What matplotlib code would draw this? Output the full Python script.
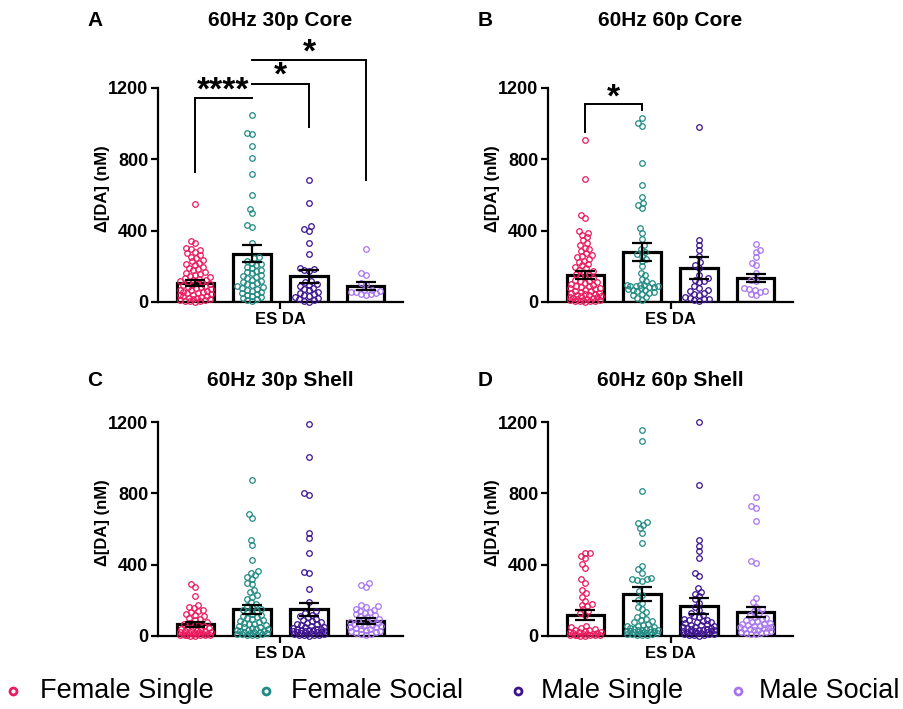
import numpy as np
import matplotlib
matplotlib.use("Agg")
import matplotlib.pyplot as plt
from matplotlib.lines import Line2D

plt.rcParams['font.family'] = ['Liberation Sans', 'DejaVu Sans']

groups = ["Female Single", "Female Social", "Male Single", "Male Social"]
colors = ["#EC1A5E", "#228A84", "#3C128E", "#A875F0"]
panel_letters = ["A", "B", "C", "D"]
panel_titles = ["60Hz 30p Core", "60Hz 60p Core", "60Hz 30p Shell", "60Hz 60p Shell"]
xcat = "ES DA"
ylabel = "Δ[DA] (nM)"
yticks = [0, 400, 800, 1200]

# bar means and SEMs
means = {
    "A": [106, 271, 144, 90],
    "B": [150, 280, 191, 135],
    "C": [65, 149, 149, 84],
    "D": [118, 235, 170, 136],
}
sems = {
    "A": [16, 48, 37, 22],
    "B": [22, 52, 60, 24],
    "C": [15, 25, 38, 15],
    "D": [28, 41, 45, 28],
}

# individual points (nM)
A_fsingle = [550, 342, 330, 305, 298, 290, 280, 272, 262, 255, 246, 238, 228, 220, 212, 205, 198, 190, 184, 178,
             170, 164, 158, 152, 146, 140, 135, 130, 126, 122, 118, 114, 110, 106, 102, 98, 94, 90, 86, 82, 78, 74,
             70, 66, 62, 58, 55, 52, 48, 45, 42, 38, 35, 32, 28, 25, 22, 19, 16, 13, 10, 8, 6, 4, 2]
A_fsocial = [1047, 948, 942, 873, 807, 720, 598, 523, 497, 430, 418, 330, 250, 245, 232, 220, 212, 205, 198, 190,
             182, 175, 168, 160, 152, 146, 140, 133, 126, 120, 112, 105, 100, 95, 90, 85, 80, 75, 70, 64, 58, 52,
             46, 40, 35, 30, 24, 18, 12, 6]
A_msingle = [686, 555, 424, 410, 398, 333, 267, 193, 185, 180, 175, 120, 110, 100, 95, 88, 80, 72, 65, 58, 50, 44,
             38, 32, 26, 20, 15, 10, 5, 2]
A_msocial = [297, 160, 152, 105, 100, 70, 65, 62, 58, 55, 50, 47, 45, 40]

B_fsingle = [910, 692, 486, 473, 396, 388, 374, 362, 345, 330, 318, 305, 296, 285, 275, 265, 258, 250, 242, 232,
             224, 215, 205, 196, 188, 180, 172, 165, 158, 150, 144, 138, 132, 126, 120, 115, 110, 105, 100, 96, 92,
             88, 84, 80, 76, 72, 68, 64, 60, 56, 53, 50, 47, 44, 41, 38, 35, 32, 29, 26, 23, 20, 18, 16, 14, 12, 10,
             8, 6, 4, 3, 2]
B_fsocial = [1034, 1004, 985, 779, 654, 589, 557, 546, 527, 415, 389, 355, 322, 300, 282, 270, 258, 240, 228, 200,
             165, 150, 130, 118, 105, 98, 95, 93, 92, 90, 88, 86, 85, 80, 75, 70, 65, 60, 55, 50, 45, 38, 30, 20, 12]
B_msingle = [981, 350, 318, 290, 256, 224, 209, 190, 150, 134, 125, 118, 112, 90, 80, 65, 60, 50, 47, 40, 30, 25,
             19, 15, 10, 5]
B_msocial = [327, 293, 280, 252, 219, 206, 165, 125, 115, 80, 72, 69, 60, 56, 47, 37]

C_fsingle = [290, 277, 226, 172, 162, 155, 148, 140, 132, 124, 118, 110, 102, 95, 88, 80, 75, 70, 64, 58, 52, 47,
             43, 40, 37, 34, 31, 28, 26, 24, 22, 20, 18, 16, 14, 12, 11, 10, 9, 8, 7, 6, 5, 4, 3, 2, 1]
C_fsocial = [877, 683, 659, 537, 510, 425, 364, 351, 340, 329, 318, 300, 289, 258, 245, 232, 220, 205, 190, 178,
             168, 160, 152, 145, 138, 132, 126, 120, 114, 108, 102, 96, 90, 85, 80, 75, 70, 65, 60, 56, 52, 48, 44,
             40, 37, 34, 31, 28, 26, 24, 22, 20, 18, 16, 14, 12, 10, 8, 6, 4]
C_msingle = [1189, 1004, 802, 793, 580, 547, 468, 357, 352, 263, 190, 140, 128, 120, 112, 105, 98, 92, 86, 80, 75,
             70, 65, 60, 56, 52, 48, 45, 42, 40, 38, 36, 34, 32, 30, 28, 26, 24, 22, 20, 18, 16, 14, 12, 10, 8, 6, 4,
             3, 2]
C_msocial = [296, 285, 274, 172, 166, 160, 152, 146, 140, 134, 128, 122, 116, 110, 104, 98, 92, 88, 84, 80, 76, 72,
             68, 64, 60, 57, 54, 51, 48, 45, 42, 38, 34, 30, 26, 22, 18, 14, 10, 6]

D_fsingle = [467, 463, 448, 435, 403, 383, 319, 300, 258, 239, 220, 198, 182, 176, 168, 150, 140, 127, 118, 58, 52,
             45, 40, 36, 32, 28, 25, 22, 20, 18, 16, 14, 12, 10, 8, 7, 6, 5, 4, 3, 2, 1]
D_fsocial = [1157, 1093, 812, 640, 634, 625, 603, 578, 524, 394, 373, 356, 327, 322, 317, 312, 308, 254, 230, 201,
             183, 165, 150, 135, 120, 108, 98, 90, 82, 76, 70, 64, 58, 54, 50, 46, 42, 40, 38, 36, 34, 32, 30, 28, 26,
             24, 22, 20, 18, 16, 14, 12, 10, 8, 6, 4]
D_msingle = [1200, 849, 537, 504, 476, 435, 356, 338, 267, 248, 238, 222, 205, 185, 165, 148, 130, 118, 110, 104, 98,
             92, 88, 84, 80, 76, 72, 68, 64, 60, 56, 53, 50, 47, 44, 41, 38, 36, 34, 32, 30, 28, 26, 24, 22, 20, 18,
             16, 14, 12, 10, 8, 6, 4, 2]
D_msocial = [780, 730, 720, 644, 420, 410, 211, 188, 165, 150, 138, 128, 118, 108, 100, 94, 88, 82, 78, 74, 70, 66,
             62, 58, 55, 52, 49, 46, 43, 40, 37, 34, 31, 28, 25, 22, 19, 16, 13, 10]

points = {
    "A": [A_fsingle, A_fsocial, A_msingle, A_msocial],
    "B": [B_fsingle, B_fsocial, B_msingle, B_msocial],
    "C": [C_fsingle, C_fsocial, C_msingle, C_msocial],
    "D": [D_fsingle, D_fsocial, D_msingle, D_msocial],
}

# significance: (group i, group j, bracket top, leg bottom i, leg bottom j, label, label x, label centre y)
sig = {
    "A": [(0, 1, 1144, 729, 1144, "****", 0.5, 1215),
          (1, 2, 1224, 1224, 981, "*", 1.5, 1299),
          (1, 3, 1359, 1359, 682, "*", 2.0, 1428)],
    "B": [(0, 1, 1112, 953, 1075, "*", 0.5, 1177)],
}

W, H = 904, 709
fig = plt.figure(figsize=(W / 100, H / 100), dpi=100)

ax_px = {"A": (158, 302), "B": (548, 302), "C": (158, 636), "D": (548, 636)}
AXW, AXH = 245, 214
XMIN, XMAX = -0.65, 3.65
px_per_x = AXW / (XMAX - XMIN)
px_per_y = AXH / 1200.0
barw = 0.65
STAR_FS = 24


def swarm(vals_px, d, halfw):
    vals_px = np.asarray(vals_px, float)
    order = np.argsort(vals_px, kind="stable")
    placed = []
    xs = np.zeros(len(vals_px))
    for i in order:
        y = vals_px[i]
        neigh = [(px, py) for px, py in placed if abs(py - y) < d]
        cands = [0.0]
        for px, py in neigh:
            dx = np.sqrt(max(d * d - (py - y) ** 2, 0))
            cands += [px - dx, px + dx]
        cands = sorted(cands, key=lambda c: (abs(c), c))
        chosen = None
        for c in cands:
            if abs(c) > halfw + 1e-9:
                continue
            if all((c - px) ** 2 + (y - py) ** 2 >= d * d - 1e-6 for px, py in neigh):
                chosen = c
                break
        if chosen is None:
            grid = np.linspace(-halfw, halfw, 17)
            chosen = max(grid, key=lambda g: min((g - px) ** 2 + (y - py) ** 2 for px, py in neigh))
        xs[i] = chosen
        placed.append((chosen, y))
    return xs


for letter, title in zip(panel_letters, panel_titles):
    x0, y0 = ax_px[letter]
    ax = fig.add_axes([x0 / W, 1 - y0 / H, AXW / W, AXH / H])
    xpos = np.arange(len(groups))
    ax.bar(xpos, means[letter], width=barw, facecolor="white", edgecolor="black", linewidth=2.3, zorder=1)
    for k, vals in enumerate(points[letter]):
        vpx = np.array(vals) * px_per_y
        offs = swarm(vpx, 5.0, 15.5) / px_per_x
        ax.plot(xpos[k] + offs, vals, linestyle="none", marker="o", markersize=4.0,
                markerfacecolor="none", markeredgecolor=colors[k], markeredgewidth=0.9, zorder=3,
                clip_on=False)
    ax.errorbar(xpos, means[letter], yerr=sems[letter], fmt="none", ecolor="black", elinewidth=1.6,
                capsize=7, capthick=1.6, zorder=4)
    ax.set_xlim(XMIN, XMAX)
    ax.set_ylim(0, 1200)
    ax.set_yticks(yticks)
    ax.set_yticklabels([str(t) for t in yticks], fontsize=13, fontweight="bold")
    ax.set_xticks([1.5])
    ax.set_xticklabels([xcat], fontsize=12, fontweight="bold")
    for s in ["top", "right"]:
        ax.spines[s].set_visible(False)
    for s in ["left", "bottom"]:
        ax.spines[s].set_linewidth(1.6)
    ax.tick_params(axis="y", length=5, width=1.6, pad=2)
    ax.tick_params(axis="x", length=5, width=1.6, pad=2)
    ax.set_ylabel(ylabel, fontsize=12, fontweight="bold")
    ax.yaxis.set_label_coords(-0.196, 0.53)

    if letter in sig:
        star_off = 0.43 * STAR_FS * (100 / 72) / px_per_y
        for (i, j, top, bi, bj, lab, lx_, ly_) in sig[letter]:
            ax.plot([xpos[i], xpos[i], xpos[j], xpos[j]], [bi, top, top, bj], color="black",
                    linewidth=1.4, clip_on=False, zorder=5, solid_joinstyle="miter")
            ax.text(lx_, ly_ - star_off, lab, ha="center", va="baseline", fontsize=STAR_FS,
                    fontweight="bold", clip_on=False)

    cx = x0 + (1.5 - XMIN) * px_per_x
    ty = 20 if y0 < 400 else 380
    fig.text(cx / W, 1 - ty / H, title, ha="center", va="center", fontsize=15, fontweight="bold")
    lx = 95 if x0 < 400 else 485
    fig.text(lx / W, 1 - ty / H, letter, ha="center", va="center", fontsize=15, fontweight="bold")

# legend
leg_marker_x = [13, 266, 518, 738]
leg_text_x = [40, 291, 541, 759]
leg_y = 691
for k, g in enumerate(groups):
    fig.add_artist(Line2D([leg_marker_x[k] / W], [1 - leg_y / H], transform=fig.transFigure, marker="o",
                          markersize=5, markerfacecolor="none", markeredgecolor=colors[k], markeredgewidth=2.0,
                          linestyle="none"))
    fig.text(leg_text_x[k] / W, 1 - leg_y / H, g, ha="left", va="center", fontsize=19.5)

fig.savefig("out.png", dpi=100)
